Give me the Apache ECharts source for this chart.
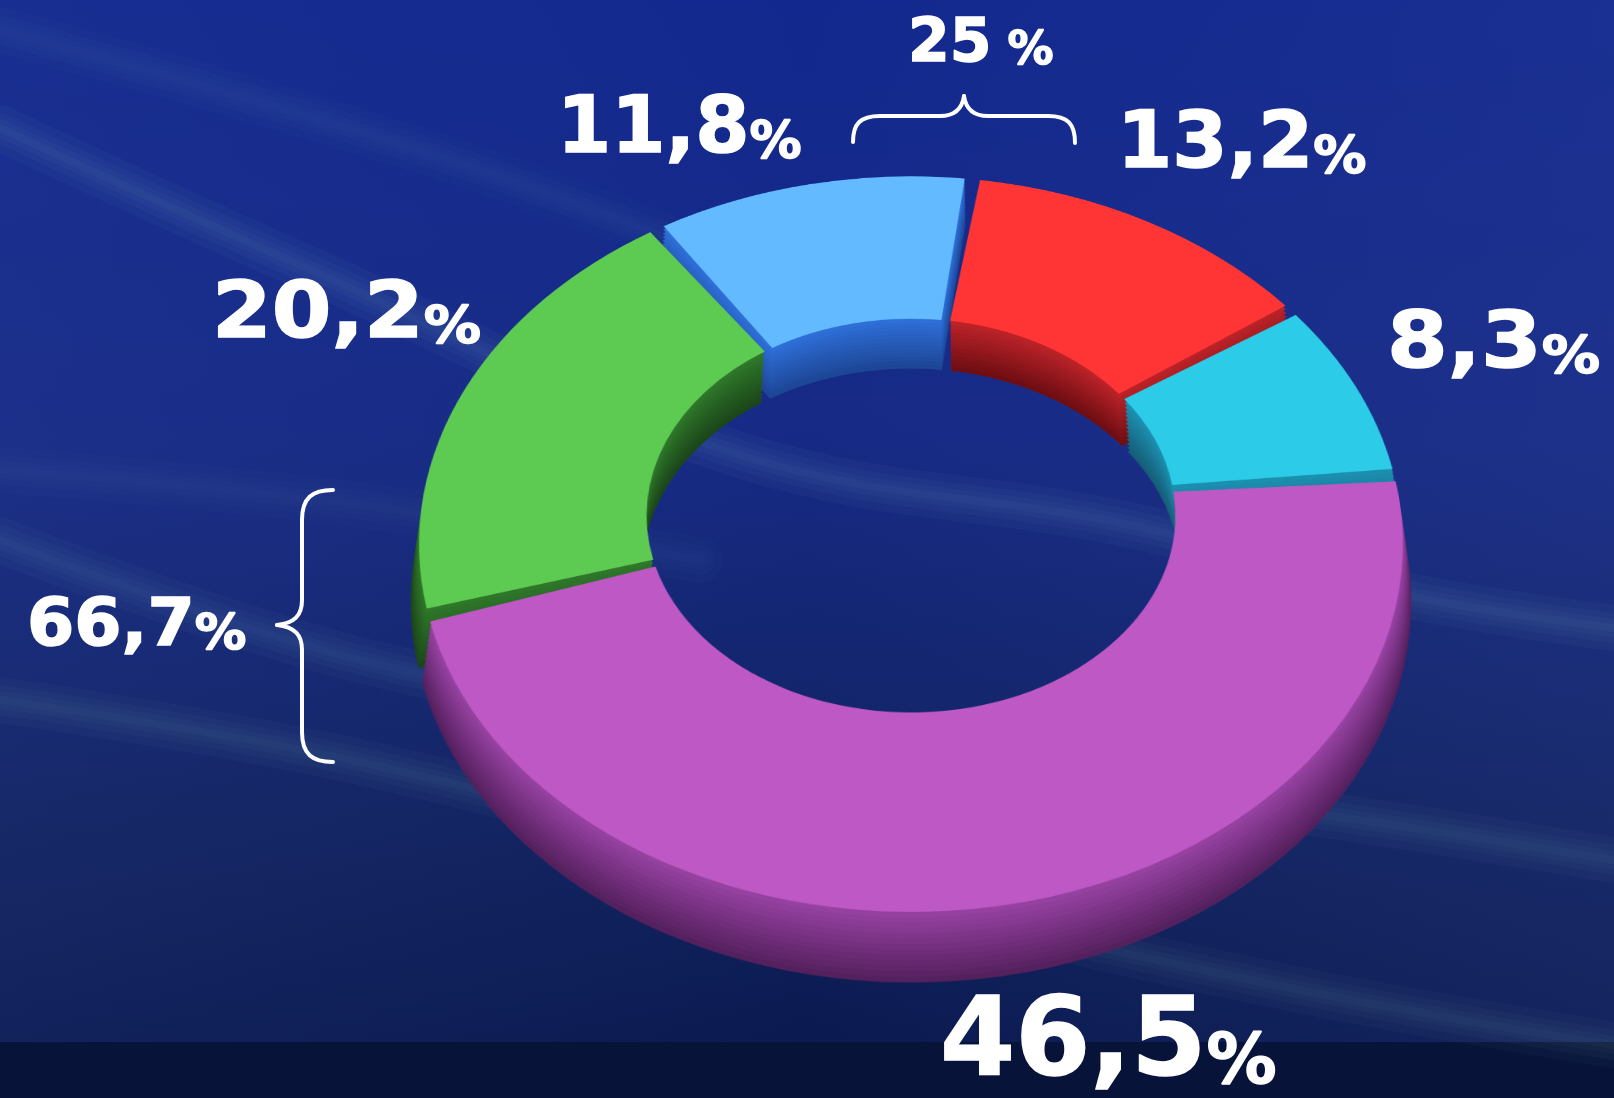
<!DOCTYPE html>
<html lang="en">
<head>
    <meta charset="UTF-8">
    <title>Donut</title>
    <script src="https://cdn.jsdelivr.net/npm/echarts@6/dist/echarts.min.js"></script>
    <style>
        body { margin: 0; background: #0b1a55; overflow: hidden; }
        #bg { position: absolute; left: 0; top: 0; width: 1614px; height: 1098px; }
        /* the ring is drawn round, then tilted back in 3D */
        #pie { position: absolute; left: 0; top: -146px; width: 1614px; height: 1300px;
               transform-origin: 911px 650px;
               transform: perspective(3000px) rotateX(42deg); }
    </style>
</head>
<body>
<div id="bg"></div>
<div id="pie"></div>
<script>
    // slices, clockwise from the top
    var shares = [13.2, 8.3, 46.5, 20.2, 11.8];
    var shareLabels = ['13,2', '8,3', '46,5', '20,2', '11,8'];
    var topColors = ['#ff3535', '#2ccbe8', '#bd58c5', '#5dcb52', '#63bafe'];
    var sideColors = ['#c0242a', '#1d93b4', '#9a44a6', '#2f7a2a', '#2f72dc'];
    var darkColors = ['#6e0e12', '#155e78', '#55205e', '#1c461a', '#1d4696'];
    // group brackets
    var groupLabels = ['25', '66,7'];

    function mix(a, b, t) {
        var pa = parseInt(a.slice(1), 16), pb = parseInt(b.slice(1), 16);
        var r = Math.round(((pa >> 16) & 255) * (1 - t) + ((pb >> 16) & 255) * t);
        var g = Math.round(((pa >> 8) & 255) * (1 - t) + ((pb >> 8) & 255) * t);
        var bl = Math.round((pa & 255) * (1 - t) + (pb & 255) * t);
        return 'rgb(' + r + ',' + g + ',' + bl + ')';
    }

    // ---------- background + texts ----------
    var bgChart = echarts.init(document.getElementById('bg'));
    var els = [];

    els.push({
        type: 'rect', z: 0, shape: { x: 0, y: 0, width: 1614, height: 1098 },
        style: {
            fill: new echarts.graphic.LinearGradient(0, 0, 0, 1, [
                { offset: 0, color: '#12288e' },
                { offset: 0.4, color: '#162a85' },
                { offset: 0.75, color: '#11225f' },
                { offset: 0.95, color: '#0b1a50' },
                { offset: 1, color: '#0a1848' }
            ])
        }
    });
    els.push({
        type: 'rect', z: 0, shape: { x: 0, y: 0, width: 1614, height: 1098 },
        style: {
            fill: new echarts.graphic.LinearGradient(0, 0, 1, 0, [
                { offset: 0, color: 'rgba(70,90,170,0.12)' },
                { offset: 0.5, color: 'rgba(70,90,170,0)' },
                { offset: 1, color: 'rgba(70,90,170,0.15)' }
            ])
        }
    });
    els.push({
        type: 'rect', z: 0, shape: { x: 0, y: 1042, width: 1614, height: 56 },
        style: { fill: '#08133a' }
    });

    // soft light streaks: a few wide, faint strokes on top of each other
    function streak(points, alpha) {
        [46, 30, 18, 8].forEach(function (w) {
            els.push({
                type: 'polyline', z: 1, silent: true,
                shape: { points: points, smooth: 0.4 },
                style: { stroke: 'rgba(140,190,200,' + alpha + ')', lineWidth: w, fill: null, lineCap: 'round' }
            });
        });
    }
    streak([[0, 30], [200, 85], [450, 160], [700, 250]], 0.02);
    streak([[0, 128], [300, 265], [740, 455], [1130, 525], [1400, 594], [1614, 628]], 0.045);
    streak([[0, 470], [360, 505], [700, 560]], 0.025);
    streak([[0, 540], [360, 660], [800, 740], [1380, 823], [1614, 860]], 0.04);
    streak([[0, 700], [360, 762], [900, 900], [1300, 990], [1614, 1045]], 0.035);

    // braces made of curve and line pieces
    function brace(parts) {
        parts.forEach(function (p) {
            var el = p.length === 4
                ? { type: 'line', shape: { x1: p[0], y1: p[1], x2: p[2], y2: p[3] } }
                : { type: 'bezierCurve', shape: { x1: p[0], y1: p[1], cpx1: p[2], cpy1: p[3], cpx2: p[4], cpy2: p[5], x2: p[6], y2: p[7] } };
            el.z = 10;
            el.style = { stroke: '#ffffff', lineWidth: 4, fill: null, lineCap: 'round' };
            els.push(el);
        });
    }
    brace([
        [853, 142, 853, 124, 860, 116, 880, 116],
        [880, 116, 940, 116],
        [940, 116, 954, 116, 962, 110, 964, 96],
        [964, 96, 966, 110, 974, 116, 988, 116],
        [988, 116, 1048, 116],
        [1048, 116, 1068, 116, 1075, 124, 1075, 143]
    ]);
    brace([
        [333, 490, 312, 490, 302, 498, 302, 520],
        [302, 520, 302, 600],
        [302, 600, 302, 615, 295, 623, 277, 625],
        [277, 625, 295, 627, 302, 635, 302, 650],
        [302, 650, 302, 732],
        [302, 732, 302, 754, 312, 762, 333, 762]
    ]);

    function label(x, baseline, num, F, f, sx, sep) {
        var hb = 0.4 * F + 0.6 * f;
        var tok = { fontWeight: 'bold', fontFamily: 'DejaVu Sans', fill: '#fff', verticalAlign: 'bottom',
                    stroke: '#fff', lineWidth: 1.5 };
        els.push({
            type: 'text', x: x, y: baseline + 0.2 * F, z: 10, scaleX: sx,
            style: {
                text: '{a|' + num + '}{b|' + (sep || '') + '%}',
                align: 'left', verticalAlign: 'bottom',
                fill: '#ffffff',
                rich: {
                    a: Object.assign({ fontSize: F, lineHeight: F }, tok),
                    b: Object.assign({ fontSize: f, lineHeight: hb }, tok)
                }
            }
        });
    }
    label(908, 63, groupLabels[0], 60, 46, 1, ' ');
    label(27, 648, groupLabels[1], 66, 50, 1.03);
    label(1117, 170, shareLabels[0], 78, 52, 1.02);
    label(1387, 370, shareLabels[1], 78, 52, 1.12);
    label(940, 1078, shareLabels[2], 108, 70, 1);
    label(212, 340, shareLabels[3], 78, 52, 1.1);
    label(557, 155, shareLabels[4], 78, 52, 1);

    bgChart.setOption({ animation: false, graphic: els });

    // ---------- ring ----------
    var pieChart = echarts.init(document.getElementById('pie'));
    var cx = 911, cy = 650, rOut = 489, rIn = 264, depth = 74, layers = 14;
    var series = [];
    for (var i = 0; i < layers; i++) {
        var t = i / (layers - 1);          // 0 = bottom, 1 = top face
        var shift = depth * (1 - t);
        var data = shares.map(function (v, k) {
            var c = (i === layers - 1) ? topColors[k] : mix(darkColors[k], sideColors[k], t);
            return { value: v, itemStyle: { color: c } };
        });
        series.push({
            type: 'pie',
            silent: true,
            center: [cx, cy + shift],
            radius: [rIn, rOut],
            startAngle: 82,
            clockwise: true,
            padAngle: 2,
            label: { show: false },
            labelLine: { show: false },
            emphasis: { disabled: true },
            data: data
        });
    }
    pieChart.setOption({
        animation: false,
        backgroundColor: 'transparent',
        series: series
    });
</script>
</body>
</html>
